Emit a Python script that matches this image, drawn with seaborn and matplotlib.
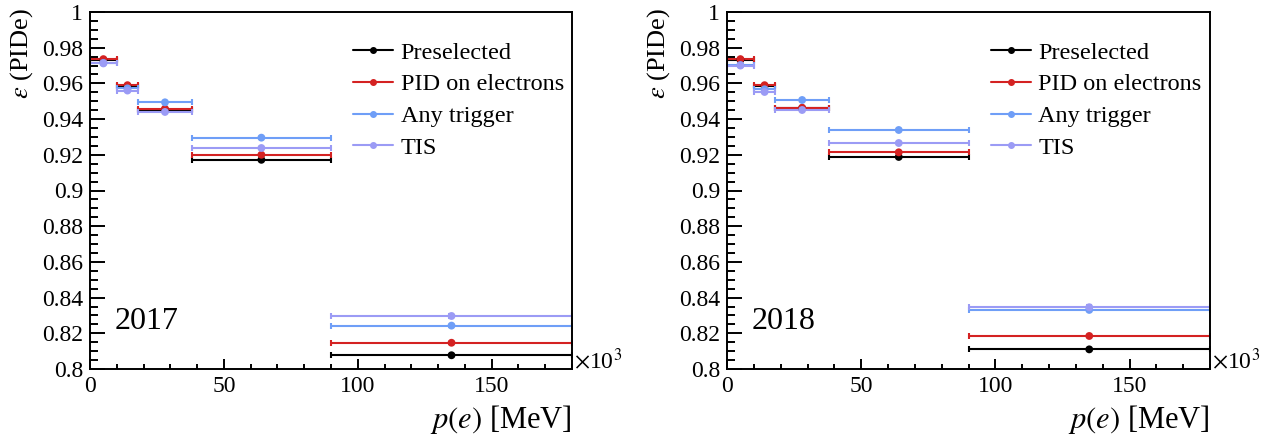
import numpy as np
import pandas as pd
import matplotlib
matplotlib.use("Agg")
import matplotlib.pyplot as plt
import seaborn as sns
from matplotlib.lines import Line2D
from matplotlib.ticker import MultipleLocator, FuncFormatter

# ---------------- data ----------------
bin_edges = [0, 10, 18, 38, 90, 180]          # p(e) in units of 10^3 MeV
series_names = ["Preselected", "PID on electrons", "Any trigger", "TIS"]
series_colors = ["#000000", "#d42222", "#6f9ef7", "#9b9bf5"]
years = ["2017", "2018"]

eff_2017_preselected = [0.9730, 0.9585, 0.9453, 0.9172, 0.8077]
eff_2017_pid = [0.9736, 0.9590, 0.9458, 0.9200, 0.8147]
eff_2017_any = [0.9715, 0.9572, 0.9494, 0.9296, 0.8243]
eff_2017_tis = [0.9712, 0.9560, 0.9440, 0.9238, 0.8297]

eff_2018_preselected = [0.9732, 0.9585, 0.9460, 0.9188, 0.8110]
eff_2018_pid = [0.9736, 0.9590, 0.9464, 0.9214, 0.8185]
eff_2018_any = [0.9703, 0.9567, 0.9507, 0.9339, 0.8331]
eff_2018_tis = [0.9700, 0.9552, 0.9451, 0.9266, 0.8346]

err_preselected = [0.0002, 0.0002, 0.0002, 0.0003, 0.0004]
err_pid = [0.0002, 0.0002, 0.0002, 0.0003, 0.0005]
err_any = [0.0003, 0.0003, 0.0003, 0.0004, 0.0006]
err_tis = [0.0004, 0.0004, 0.0004, 0.0005, 0.0010]

effs = {
    "2017": [eff_2017_preselected, eff_2017_pid, eff_2017_any, eff_2017_tis],
    "2018": [eff_2018_preselected, eff_2018_pid, eff_2018_any, eff_2018_tis],
}
errs = [err_preselected, err_pid, err_any, err_tis]

edges = np.array(bin_edges, dtype=float)
centers = 0.5 * (edges[:-1] + edges[1:])
halfw = 0.5 * (edges[1:] - edges[:-1])

rows = []
for yr in years:
    for si, name in enumerate(series_names):
        for b in range(len(centers)):
            rows.append(dict(year=yr, series=name, p=centers[b], pw=halfw[b],
                             eff=effs[yr][si][b], err=errs[si][b]))
df = pd.DataFrame(rows)

# ---------------- style ----------------
sns.set_theme(style="ticks")
plt.rcParams["font.family"] = ["Liberation Serif", "DejaVu Serif"]
plt.rcParams["mathtext.fontset"] = "stix"
plt.rcParams["axes.linewidth"] = 1.4
for k in ["text.color", "axes.labelcolor", "xtick.color", "ytick.color",
          "xtick.labelcolor", "ytick.labelcolor", "axes.edgecolor"]:
    plt.rcParams[k] = "black"

W, H = 1276, 441
fig = plt.figure(figsize=(W / 100, H / 100), dpi=100)

axes_px = [(90, 572), (727, 1210)]
top_px, bot_px = 12, 369

palette = dict(zip(series_names, series_colors))

for yr, (x0, x1) in zip(years, axes_px):
    ax = fig.add_axes([x0 / W, 1 - bot_px / H, (x1 - x0) / W, (bot_px - top_px) / H])
    d = df[df.year == yr]
    for name in series_names:
        ds = d[d.series == name]
        ax.errorbar(ds.p, ds.eff, xerr=ds.pw, yerr=ds.err, fmt="none",
                    ecolor=palette[name], elinewidth=1.5, capsize=2, capthick=1.5,
                    zorder=2)
        sns.scatterplot(data=ds, x="p", y="eff", color=palette[name], s=32,
                        edgecolor="none", legend=False, ax=ax, zorder=3)

    ax.set_xlim(0, 180)
    ax.set_ylim(0.8, 1.0)
    ax.set_xlabel("")
    ax.set_ylabel("")
    ax.xaxis.set_major_locator(MultipleLocator(50))
    ax.xaxis.set_minor_locator(MultipleLocator(10))
    ax.yaxis.set_major_locator(MultipleLocator(0.02))
    ax.yaxis.set_minor_locator(MultipleLocator(0.005))
    ax.yaxis.set_major_formatter(FuncFormatter(lambda v, _: f"{v:.2f}".rstrip("0").rstrip(".")))
    ax.xaxis.set_major_formatter(FuncFormatter(lambda v, _: f"{v:g}"))
    ax.tick_params(axis="both", which="both", direction="in", top=False, right=False,
                   labelsize=17, color="black", labelcolor="black", width=1.4)
    ax.tick_params(axis="y", which="major", length=11, pad=5)
    ax.tick_params(axis="y", which="minor", length=5.5)
    ax.tick_params(axis="x", which="major", length=7, pad=5)
    ax.tick_params(axis="x", which="minor", length=3.5)
    for sp in ax.spines.values():
        sp.set_visible(True)
        sp.set_color("black")
        sp.set_linewidth(1.4)

    handles = [Line2D([0], [0], color=c, lw=1.5, marker="o", markersize=4)
               for c in series_colors]
    leg = ax.legend(handles, series_names, loc="upper left", bbox_to_anchor=(0.546, 0.917),
                    frameon=False, fontsize=17.5, handlelength=1.65, handletextpad=0.3,
                    labelspacing=0.4, borderpad=0, borderaxespad=0)
    for t in leg.get_texts():
        t.set_color("black")

    ax.text(25 / (x1 - x0), 1 - (329 - top_px) / (bot_px - top_px), yr,
            transform=ax.transAxes, fontsize=23, ha="left", va="baseline", color="black")

    fig.text((x0 - 68) / W, 1 - 8 / H, r"$\varepsilon$ (PIDe)", rotation=90,
             ha="center", va="top", fontsize=19, color="black")
    fig.text(x1 / W, 1 - 420 / H, r"$p(e)$ [MeV]", ha="right", va="center",
             fontsize=22, color="black")
    fig.text((x1 + 2) / W, 1 - 369 / H, r"$\times$10$^{3}$", ha="left", va="baseline",
             fontsize=17, color="black")

fig.savefig("out.png", dpi=100)
